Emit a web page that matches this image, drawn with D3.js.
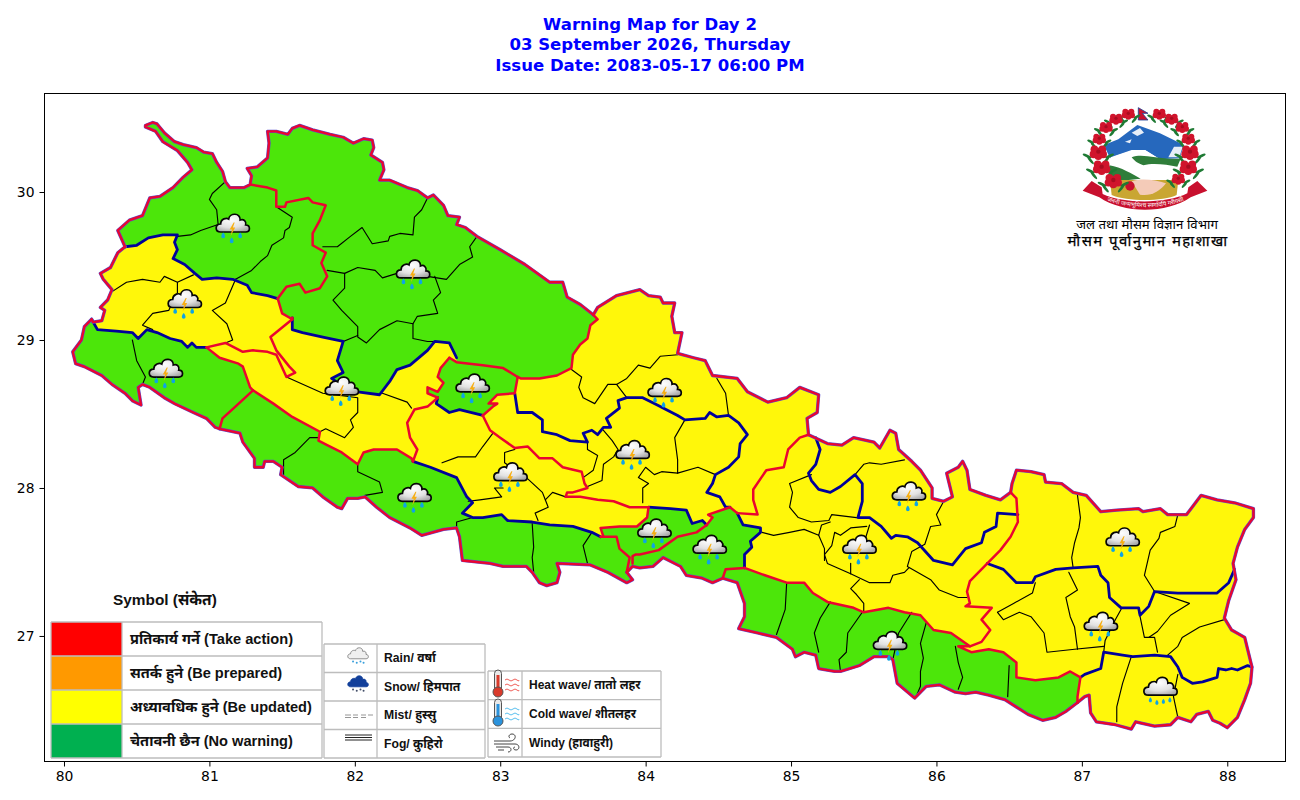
<!DOCTYPE html>
<html>
<head>
<meta charset="utf-8">
<script src="https://cdn.jsdelivr.net/npm/d3@7"></script>
<style>
  body { margin: 0; background: #fff; }
  svg { display: block; }
</style>
</head>
<body>
<svg id="map" width="1300" height="800"></svg>
<script>
// ── Data: border pieces in lon/lat ───────────────────────────────────────
const outer1 = [[80.42,29.63],[80.37,29.74],[80.45,29.81],[80.54,29.84],[80.59,29.96],[80.66,29.97],[80.75,30.03],[80.82,30.10],[80.88,30.15],[80.85,30.20],[80.78,30.28],[80.68,30.34],[80.63,30.41],[80.56,30.44],[80.56,30.45],[80.61,30.47],[80.64,30.46],[80.69,30.40],[80.76,30.34],[80.82,30.32],[80.91,30.30],[80.96,30.27],[81.02,30.26],[81.05,30.20],[81.09,30.14],[81.11,30.07],[81.14,30.03],[81.19,30.03],[81.24,30.03],[81.28,30.05],[81.29,30.11],[81.26,30.16],[81.33,30.17],[81.40,30.23],[81.41,30.33],[81.40,30.41],[81.46,30.41],[81.54,30.39],[81.57,30.43],[81.62,30.45],[81.71,30.42],[81.83,30.39],[81.92,30.37],[81.99,30.33],[82.06,30.36],[82.12,30.35],[82.13,30.30],[82.11,30.25],[82.19,30.20],[82.20,30.15],[82.17,30.08],[82.24,30.08],[82.36,30.03],[82.43,30.01],[82.50,29.96],[82.54,29.98],[82.61,29.91],[82.64,29.84],[82.72,29.83],[82.70,29.78],[82.76,29.76],[82.84,29.70],[83.00,29.61],[83.17,29.51],[83.34,29.39],[83.43,29.39],[83.46,29.29],[83.55,29.24],[83.64,29.17]];
const outer2 = [[83.64,29.17],[83.67,29.22],[83.80,29.30],[83.96,29.34],[84.02,29.30],[84.10,29.29],[84.12,29.25],[84.20,29.25],[84.18,29.16],[84.20,29.05],[84.25,29.05],[84.22,28.91],[84.33,28.88],[84.41,28.86],[84.46,28.76],[84.63,28.74],[84.70,28.65],[84.84,28.58],[84.97,28.61],[85.06,28.68],[85.19,28.63],[85.18,28.51],[85.11,28.47],[85.12,28.36]];
const outer3 = [[85.12,28.36],[85.25,28.30],[85.35,28.29],[85.43,28.34],[85.57,28.31],[85.61,28.27],[85.68,28.39],[85.72,28.37],[85.74,28.26],[85.83,28.18],[85.89,28.12],[85.97,28.00],[85.97,27.93],[86.05,27.91],[86.11,27.94],[86.07,28.10],[86.15,28.14],[86.18,28.18],[86.21,28.12],[86.23,27.99],[86.34,27.95],[86.44,27.92],[86.51,27.97]];
const outer4 = [[86.51,27.97],[86.52,28.03],[86.55,28.12],[86.65,28.11],[86.74,28.09],[86.75,28.04],[86.86,28.03],[86.94,27.97],[87.03,27.95],[87.13,27.84],[87.24,27.85],[87.39,27.86],[87.42,27.84],[87.54,27.86],[87.59,27.82],[87.72,27.82],[87.82,27.95],[87.93,27.92],[88.05,27.90],[88.18,27.86],[88.18,27.80],[88.12,27.72],[88.07,27.60],[88.04,27.49],[88.06,27.38],[88.01,27.24],[87.98,27.12],[88.03,27.04],[88.12,26.99],[88.14,26.91],[88.17,26.79],[88.16,26.68],[88.12,26.57],[88.07,26.45],[88.00,26.38],[87.95,26.41],[87.90,26.43],[87.87,26.49],[87.79,26.47],[87.75,26.42],[87.66,26.45],[87.61,26.40],[87.50,26.39],[87.37,26.42],[87.34,26.37],[87.23,26.40],[87.10,26.42],[87.06,26.48],[87.05,26.60],[87.02,26.59],[86.97,26.55]];
const outer5 = [[86.97,26.55],[86.89,26.49],[86.82,26.45],[86.73,26.43],[86.63,26.47],[86.55,26.52],[86.47,26.57],[86.36,26.60],[86.27,26.62],[86.20,26.61],[86.13,26.62],[86.02,26.67],[85.93,26.66],[85.85,26.58],[85.73,26.68],[85.70,26.84],[85.67,26.86],[85.57,26.86],[85.47,26.80],[85.34,26.76],[85.30,26.76],[85.19,26.78],[85.17,26.87],[85.09,26.89],[85.03,26.86],[85.01,26.91],[84.90,26.99],[84.77,27.02],[84.64,27.05],[84.68,27.13],[84.68,27.22],[84.63,27.36],[84.53,27.39]];
const outer6 = [[84.53,27.39],[84.46,27.36],[84.39,27.39],[84.28,27.41],[84.24,27.47],[84.12,27.53],[84.05,27.47],[83.96,27.46],[83.91,27.47],[83.87,27.43]];
const outer7 = [[83.87,27.43],[83.91,27.38],[83.87,27.36],[83.74,27.43],[83.62,27.48],[83.39,27.49],[83.41,27.43],[83.39,27.36],[83.32,27.34],[83.27,27.36],[83.22,27.43],[83.18,27.47],[83.02,27.47],[82.93,27.49],[82.74,27.51],[82.72,27.67],[82.70,27.73],[82.61,27.72],[82.46,27.68],[82.38,27.73],[82.24,27.80],[82.15,27.87],[82.07,27.94],[82.02,27.93],[81.95,27.93],[81.91,27.86],[81.88,27.87],[81.78,27.94],[81.71,28.00],[81.61,28.01],[81.49,28.09],[81.50,28.14],[81.44,28.18],[81.38,28.18],[81.37,28.14],[81.31,28.14],[81.31,28.20],[81.23,28.31],[81.21,28.37],[81.07,28.40]];
const outer8 = [[81.07,28.40],[81.04,28.41],[80.98,28.47],[80.89,28.51],[80.76,28.57],[80.69,28.61],[80.59,28.68],[80.54,28.70],[80.51,28.68],[80.53,28.56],[80.47,28.59],[80.42,28.64],[80.33,28.70],[80.26,28.76],[80.14,28.82],[80.08,28.84],[80.06,28.92],[80.12,29.00],[80.14,29.09],[80.19,29.14]];
const outer9 = [[80.19,29.14],[80.20,29.12],[80.26,29.13],[80.28,29.20],[80.25,29.22],[80.30,29.27],[80.33,29.34],[80.27,29.41],[80.25,29.45],[80.32,29.49],[80.37,29.59],[80.42,29.63]];

// navy lines
const navyA = [[80.42,29.63],[80.50,29.64],[80.58,29.69],[80.68,29.71],[80.78,29.71],[80.76,29.66],[80.78,29.61],[80.75,29.55],[80.83,29.51],[80.90,29.45],[80.95,29.41],[81.05,29.42],[81.16,29.41],[81.26,29.37],[81.29,29.32],[81.40,29.30],[81.47,29.28]];
const navyB = [[81.57,29.15],[81.57,29.07],[81.64,29.05],[81.78,29.02],[81.92,28.99],[81.88,28.86],[81.92,28.78],[81.84,28.74],[81.93,28.68],[82.02,28.65],[82.17,28.63],[82.24,28.72],[82.29,28.80],[82.38,28.83],[82.50,28.93],[82.55,28.99],[82.65,28.98],[82.70,28.88]];
const navyC = [[80.98,28.95],[80.91,28.95],[80.88,28.98],[80.85,28.95],[80.81,28.99],[80.73,29.01],[80.64,29.05],[80.57,29.07],[80.51,29.01],[80.47,29.05],[80.36,29.06],[80.23,29.07],[80.19,29.14]];
const navyD = [[82.40,28.18],[82.52,28.14],[82.70,28.07],[82.77,27.94],[82.81,27.90],[82.74,27.83],[82.81,27.80],[82.88,27.80],[83.01,27.82],[83.05,27.78],[83.22,27.77],[83.34,27.75],[83.50,27.74],[83.63,27.70],[83.69,27.67]];
const navyE = [[82.57,28.61],[82.56,28.57],[82.65,28.51],[82.72,28.53],[82.88,28.49]];
const navyF = [[84.02,27.87],[84.17,27.86],[84.28,27.85],[84.32,27.76],[84.39,27.78],[84.42,27.75]];
const navyG = [[83.10,28.64],[83.12,28.51],[83.22,28.51],[83.29,28.46],[83.29,28.38],[83.39,28.36],[83.48,28.32],[83.60,28.31],[83.57,28.37],[83.63,28.39],[83.67,28.36],[83.71,28.41],[83.76,28.41],[83.73,28.47],[83.82,28.54],[83.81,28.59],[83.87,28.61],[83.98,28.61],[84.08,28.56],[84.22,28.49],[84.27,28.46],[84.41,28.47],[84.44,28.51],[84.49,28.48],[84.57,28.49],[84.64,28.44],[84.70,28.36],[84.65,28.30],[84.64,28.21],[84.57,28.14],[84.48,28.09],[84.46,28.03],[84.42,27.97],[84.51,27.94],[84.55,27.87],[84.58,27.87]];
const navyH = [[84.63,27.83],[84.67,27.75],[84.79,27.73],[84.79,27.70],[84.72,27.64],[84.73,27.60],[84.68,27.55],[84.68,27.46]];
const navyI = [[86.35,27.49],[86.46,27.45],[86.55,27.36],[86.66,27.36],[86.68,27.40],[86.82,27.45],[86.94,27.46],[87.11,27.47],[87.13,27.41],[87.18,27.36],[87.19,27.26],[87.27,27.19],[87.39,27.19],[87.40,27.14],[87.46,27.20],[87.50,27.30],[87.66,27.29],[87.93,27.29],[88.01,27.36],[88.05,27.45]];
const navyJ = [[86.56,27.82],[86.42,27.83],[86.41,27.74],[86.33,27.70],[86.31,27.63],[86.20,27.59],[86.15,27.53],[86.11,27.48],[85.98,27.51],[85.87,27.63],[85.80,27.67],[85.72,27.68],[85.69,27.66],[85.62,27.74],[85.54,27.80],[85.46,27.80],[85.49,27.91],[85.49,28.03],[85.44,28.09],[85.34,28.01],[85.27,27.97],[85.19,27.99],[85.14,28.05],[85.12,28.10],[85.17,28.16],[85.20,28.26],[85.17,28.34]];
const navyK = [[86.99,26.72],[87.02,26.74],[87.13,26.78],[87.15,26.89],[87.28,26.87],[87.35,26.86],[87.50,26.87],[87.61,26.86],[87.66,26.79],[87.69,26.72],[87.76,26.68],[87.83,26.69],[87.93,26.72],[87.94,26.78],[87.99,26.77],[88.03,26.78],[88.07,26.77],[88.14,26.80],[88.17,26.79]];

// red lines
const redA = [[81.47,29.28],[81.53,29.36],[81.62,29.38],[81.66,29.32],[81.76,29.35],[81.81,29.43],[81.77,29.52],[81.80,29.59],[81.71,29.64],[81.71,29.72],[81.76,29.81],[81.80,29.91],[81.71,29.93],[81.68,29.96],[81.53,29.93],[81.52,29.90],[81.46,29.90],[81.46,30.01],[81.40,30.03],[81.28,30.05]];
const redB = [[81.47,29.28],[81.50,29.18],[81.57,29.14],[81.57,29.15]];
const redC = [[81.57,29.14],[81.42,29.02],[81.46,28.93],[81.55,28.82],[81.59,28.78],[81.53,28.75],[81.46,28.90],[81.40,28.92],[81.30,28.93],[81.23,28.92],[81.11,28.98],[80.98,28.95]];
const redD = [[80.98,28.95],[81.07,28.88],[81.20,28.84],[81.23,28.82],[81.28,28.68],[81.30,28.66]];
const redE = [[81.30,28.66],[81.19,28.56],[81.09,28.47],[81.07,28.40]];
const redF = [[81.30,28.66],[81.44,28.57],[81.57,28.48],[81.76,28.38],[81.75,28.32],[81.81,28.29],[81.91,28.24],[82.02,28.16],[82.06,28.24],[82.13,28.26],[82.29,28.26],[82.39,28.20],[82.40,28.18]];
const redG = [[83.69,27.67],[83.71,27.67],[83.80,27.67],[83.82,27.59],[83.89,27.53],[83.87,27.43]];
const redH = [[84.02,27.87],[84.01,27.80],[83.94,27.74],[83.82,27.74],[83.69,27.73],[83.71,27.67]];
const redI = [[82.40,28.18],[82.43,28.26],[82.38,28.34],[82.36,28.44],[82.41,28.53],[82.50,28.55],[82.57,28.61]];
const redJ = [[82.57,28.61],[82.50,28.64],[82.50,28.68],[82.57,28.65],[82.61,28.71],[82.57,28.75],[82.59,28.81],[82.65,28.88]];
const redK = [[82.65,28.88],[82.70,28.85],[82.88,28.83],[83.02,28.81],[83.12,28.75]];
const redL = [[83.12,28.75],[83.14,28.74],[83.27,28.74],[83.39,28.76],[83.49,28.81],[83.50,28.90],[83.55,28.97],[83.60,29.01],[83.62,29.10],[83.67,29.14],[83.64,29.17]];
const redM = [[83.12,28.75],[83.10,28.64],[82.98,28.63],[82.92,28.57],[82.98,28.57],[82.95,28.55],[82.88,28.49]];
const redN = [[82.88,28.49],[82.93,28.39],[83.00,28.34],[83.10,28.27],[83.19,28.28],[83.27,28.20],[83.36,28.20],[83.43,28.14],[83.56,28.11],[83.58,28.03],[83.60,28.00],[83.50,27.97],[83.46,27.97],[83.45,27.94],[83.55,27.94],[83.67,27.92],[83.78,27.91],[83.89,27.87],[84.02,27.87]];
const redO = [[83.91,27.49],[83.91,27.54],[83.93,27.55],[83.96,27.55],[84.09,27.58],[84.22,27.67],[84.35,27.70],[84.42,27.75]];
const redP = [[84.42,27.75],[84.46,27.80],[84.43,27.82],[84.58,27.87],[84.63,27.83]];
const redQ = [[84.63,27.83],[84.77,27.82],[84.74,27.92],[84.74,27.99],[84.83,28.12],[84.95,28.14],[84.98,28.26],[85.06,28.34],[85.12,28.36]];
const redR = [[84.53,27.39],[84.55,27.45],[84.68,27.46]];
const redS = [[84.68,27.46],[84.82,27.41],[84.97,27.36],[85.09,27.36],[85.15,27.29],[85.25,27.23],[85.43,27.19],[85.50,27.16],[85.67,27.19],[85.78,27.16],[85.89,27.14],[85.98,27.04],[86.10,27.02],[86.23,26.93],[86.15,26.93],[86.24,26.89],[86.36,26.91],[86.46,26.89],[86.55,26.82],[86.55,26.72],[86.68,26.70],[86.84,26.72],[86.92,26.76],[86.99,26.72],[86.97,26.59],[86.97,26.55]];
const redT = [[86.51,27.97],[86.55,27.93],[86.56,27.77],[86.51,27.67],[86.44,27.58],[86.35,27.49],[86.23,27.37],[86.21,27.30],[86.23,27.22],[86.20,27.20],[86.38,27.19],[86.31,27.11],[86.37,27.04],[86.31,26.96],[86.23,26.93]];

// thin district lines
const districtLines = [
  [[81.11,30.07],[81.02,29.99],[81.00,29.95],[81.05,29.88],[81.06,29.78],[80.94,29.74],[80.87,29.71],[80.78,29.70]],
  [[81.46,29.90],[81.57,29.83],[81.55,29.76],[81.52,29.74],[81.51,29.69],[81.43,29.64],[81.40,29.57],[81.35,29.53],[81.29,29.47],[81.18,29.41]],
  [[82.50,29.96],[82.46,29.88],[82.41,29.83],[82.40,29.71],[82.31,29.72],[82.24,29.70],[82.23,29.67],[82.12,29.65],[82.05,29.76],[81.97,29.70],[81.88,29.63],[81.78,29.63]],
  [[81.81,29.47],[81.93,29.45],[82.02,29.49],[82.14,29.47],[82.19,29.42],[82.29,29.45],[82.50,29.43],[82.63,29.41],[82.72,29.51],[82.81,29.56],[82.79,29.63],[82.84,29.70]],
  [[81.93,29.45],[81.93,29.35],[81.85,29.27],[81.91,29.20],[82.02,29.09],[82.02,29.02],[82.08,28.98],[82.17,29.07],[82.29,29.13],[82.40,29.11],[82.43,29.16],[82.57,29.18],[82.54,29.27],[82.59,29.32],[82.55,29.43]],
  [[81.92,28.99],[82.02,29.03]],
  [[82.40,29.11],[82.40,29.01],[82.50,28.99],[82.55,28.99]],
  [[80.32,29.32],[80.43,29.39],[80.54,29.41],[80.66,29.39],[80.69,29.43],[80.78,29.39],[80.89,29.44]],
  [[80.78,29.39],[80.78,29.32],[80.72,29.20],[80.61,29.18],[80.54,29.10],[80.61,29.07]],
  [[81.18,29.41],[81.11,29.25],[81.02,29.20],[81.12,29.11],[81.16,29.00],[81.11,28.98]],
  [[80.47,29.00],[80.50,28.86],[80.56,28.75],[80.54,28.70]],
  [[81.53,28.75],[81.78,28.64],[82.02,28.61],[82.02,28.51],[81.97,28.46],[81.99,28.41],[81.93,28.34],[81.80,28.40],[81.76,28.38]],
  [[82.19,28.64],[82.36,28.58],[82.39,28.54]],
  [[81.75,28.34],[81.69,28.34],[81.59,28.24],[81.51,28.19],[81.51,28.09]],
  [[82.02,28.16],[82.02,28.11],[82.17,28.04],[82.19,27.97],[82.07,27.95]],
  [[82.70,27.73],[82.70,27.77],[82.81,27.80]],
  [[83.49,28.80],[83.56,28.75],[83.54,28.68],[83.57,28.61],[83.65,28.57],[83.74,28.70],[83.80,28.70],[83.87,28.61]],
  [[83.80,28.70],[83.87,28.74],[83.95,28.83],[84.03,28.81],[84.10,28.89],[84.22,28.90]],
  [[84.49,28.74],[84.55,28.64],[84.57,28.49]],
  [[84.27,28.46],[84.20,28.34],[84.22,28.19],[84.22,28.10],[84.36,28.14],[84.48,28.09]],
  [[84.22,28.10],[84.11,28.11],[84.06,28.09],[84.00,28.14],[83.95,28.07],[84.02,28.03],[83.98,28.00],[83.98,27.90]],
  [[83.71,28.39],[83.77,28.32],[83.81,28.26],[83.78,28.21],[83.71,28.16],[83.70,28.05],[83.60,28.01]],
  [[83.60,28.31],[83.60,28.26],[83.67,28.22],[83.64,28.12],[83.57,28.07],[83.58,28.03]],
  [[82.95,28.37],[82.88,28.28],[82.83,28.21],[82.71,28.21],[82.60,28.17]],
  [[83.10,28.26],[83.03,28.24],[83.03,28.17],[83.18,28.07],[83.29,27.97],[83.31,27.92],[83.33,27.87],[83.24,27.83],[83.26,27.78]],
  [[83.31,27.92],[83.36,27.97],[83.45,27.94]],
  [[83.02,28.00],[82.96,28.00],[83.01,27.94],[82.86,27.92],[82.78,27.91]],
  [[83.22,27.76],[83.23,27.60],[83.22,27.53],[83.23,27.43]],
  [[83.63,27.70],[83.57,27.61],[83.60,27.49]],
  [[85.78,28.19],[85.62,28.16],[85.54,28.17],[85.50,28.16],[85.44,28.09]],
  [[85.14,28.09],[84.99,28.03],[85.01,27.97],[84.99,27.87],[85.05,27.80],[85.14,27.77],[85.26,27.78],[85.28,27.82],[85.45,27.80]],
  [[86.05,27.91],[86.00,27.82],[86.03,27.75],[85.96,27.74],[85.92,27.62],[85.83,27.57],[85.80,27.47],[85.96,27.38],[86.02,27.31],[86.15,27.26],[86.21,27.26]],
  [[86.97,27.95],[86.99,27.80],[86.98,27.73],[86.95,27.63],[86.93,27.53],[86.94,27.46]],
  [[87.66,27.82],[87.64,27.74],[87.54,27.70],[87.53,27.66],[87.47,27.58],[87.43,27.41],[87.50,27.30]],
  [[84.80,27.70],[84.88,27.68],[84.99,27.70],[85.09,27.72],[85.19,27.68],[85.21,27.75],[85.27,27.77]],
  [[85.52,27.74],[85.41,27.73],[85.34,27.68],[85.30,27.70],[85.28,27.61],[85.23,27.55],[85.25,27.49],[85.41,27.42],[85.54,27.36],[85.68,27.36],[85.70,27.41],[85.78,27.43],[85.81,27.46]],
  [[85.54,27.75],[85.49,27.59]],
  [[85.41,27.49],[85.41,27.42]],
  [[85.19,27.68],[85.23,27.59],[85.23,27.51]],
  [[85.47,27.38],[85.41,27.32],[85.45,27.28],[85.50,27.22],[85.50,27.16]],
  [[86.42,27.16],[86.46,27.11],[86.57,27.16],[86.65,27.13],[86.74,27.02],[86.76,26.89],[86.95,26.91],[87.15,26.93]],
  [[86.42,27.16],[86.53,27.22],[86.66,27.29],[86.68,27.36]],
  [[86.91,27.43],[86.97,27.31],[86.89,27.26],[86.92,27.13],[86.95,27.06],[86.97,26.91]],
  [[87.27,27.18],[87.23,27.11],[87.16,26.97],[87.15,26.89]],
  [[87.39,27.18],[87.43,26.99],[87.50,26.99],[87.52,26.89]],
  [[87.50,27.30],[87.74,27.22],[87.61,27.14],[87.52,27.03],[87.46,26.99]],
  [[87.98,27.11],[87.81,27.06],[87.69,26.99],[87.66,26.93],[87.59,26.87]],
  [[87.34,26.86],[87.28,26.68],[87.24,26.52],[87.24,26.42]],
  [[87.66,26.74],[87.63,26.59],[87.66,26.45]],
  [[86.50,26.80],[86.49,26.59]],
  [[84.97,27.36],[84.96,27.18],[84.90,27.01]],
  [[85.27,27.23],[85.20,27.12],[85.16,27.02],[85.19,26.89]],
  [[85.49,27.16],[85.39,27.02],[85.38,26.89],[85.33,26.84],[85.34,26.76]],
  [[85.83,27.16],[85.74,27.02],[85.70,26.84]],
  [[85.93,27.09],[85.89,26.95],[85.91,26.85],[85.89,26.76],[85.89,26.66],[85.86,26.59]],
  [[86.13,26.93],[86.15,26.82],[86.18,26.72],[86.15,26.64]]
];

// cloud symbols: lon, lat, thunder or plain rain
const cloudLon = [81.16,82.40,80.83,80.70,81.91,82.81,84.13,83.91,83.07,82.41,84.06,84.44,85.81,85.47,87.28,87.13,85.68,87.54];
const cloudLat = [29.76,29.45,29.25,28.78,28.66,28.68,28.65,28.23,28.08,27.94,27.70,27.59,27.95,27.59,27.64,27.07,26.94,26.63];
const cloudBolt = [1,1,1,1,1,1,1,1,1,1,1,1,1,1,1,1,1,0];

const xTicks = [80,81,82,83,84,85,86,87,88];
const yTicks = [27,28,29,30];
const titleLines = ['Warning Map for Day 2','03 September 2026, Thursday','Issue Date: 2083-05-17 06:00 PM'];

const warningColors = ['#ff0000','#ff9900','#ffff00','#00b050'];
const warningLabels = ['प्रतिकार्य गर्ने (Take action)','सतर्क हुने (Be prepared)','अध्यावधिक हुने (Be updated)','चेतावनी छैन (No warning)'];
const weatherLabels = ['Rain/ वर्षा','Snow/ हिमपात','Mist/ हुस्सु','Fog/ कुहिरो'];
const hazardLabels  = ['Heat wave/ तातो लहर','Cold wave/ शीतलहर','Windy (हावाहुरी)'];

const YELLOW = '#fff70a', GREEN = '#4ce60a', RED = '#ea0530', NAVY = '#00009a', HALO = '#5a50d0';
const BOLD_FONT = '"Liberation Sans","Noto Sans",sans-serif';

// ── Setup ────────────────────────────────────────────────────────────────
const svg = d3.select('#map');
const x = d3.scaleLinear().domain([79.8625, 88.397]).range([44, 1285]);
const y = d3.scaleLinear().domain([26.155, 30.669]).range([761, 93]);
const line = d3.line().x(d => x(d[0])).y(d => y(d[1]));
const rev = a => a.slice().reverse();

svg.selectAll('text.title').data(titleLines).join('text')
  .attr('class', 'title')
  .attr('x', 650).attr('y', (d, i) => 30 + i * 20.4)
  .attr('text-anchor', 'middle')
  .attr('font-family', '"DejaVu Sans"').attr('font-weight', 'bold').attr('font-size', 16.55)
  .attr('fill', '#0000ff')
  .text(d => d);

// ── Fills ────────────────────────────────────────────────────────────────
const country = [].concat(outer1, outer2, outer3, outer4, outer5, outer6, outer7, outer8, outer9);
const greenZones = [
  [].concat(outer1, rev(redL), rev(redK).slice(0, 4), rev(navyB), rev(redB), rev(navyA)),
  [].concat(redK, redM, rev(navyE), redJ),
  [].concat(navyC, rev(outer8), rev(redE), rev(redD)),
  [].concat(redF, navyD, redG, outer7, rev(redE)),
  [].concat(navyF, redP, navyH, rev(redR), outer6, rev(redG), rev(redH)),
  [].concat(redS, outer5, redR)
];
const mapG = svg.append('g');
mapG.append('path').attr('d', line(country) + 'Z').attr('fill', YELLOW);
mapG.selectAll('path.zone').data(greenZones).join('path')
  .attr('class', 'zone').attr('d', d => line(d) + 'Z').attr('fill', GREEN);

// ── Lines ────────────────────────────────────────────────────────────────
const drawLines = (list, color, width) => {
  mapG.append('g').selectAll('path').data(list).join('path')
    .attr('d', line).attr('fill', 'none')
    .attr('stroke', color).attr('stroke-width', width)
    .attr('stroke-linejoin', 'round').attr('stroke-linecap', 'round');
};
const outerLines = [outer1, outer2, outer3, outer4, outer5, outer6, outer7, outer8, outer9];
drawLines(districtLines, '#000', 1.15);
drawLines([navyA, navyB, navyC, navyD, navyE, navyF, navyG, navyH, navyI, navyJ, navyK], NAVY, 2.8);
drawLines(outerLines, HALO, 3.3);
drawLines(outerLines, RED, 2.3);
drawLines([redA, redB, redC, redD, redE, redF, redG, redH, redI, redJ, redK, redL, redM, redN, redO, redP, redQ, redR, redS, redT], RED, 2.5);

// ── Frame and axes ───────────────────────────────────────────────────────
svg.append('rect').attr('x', 44.5).attr('y', 93.5).attr('width', 1241).attr('height', 668)
  .attr('fill', 'none').attr('stroke', '#000').attr('stroke-width', 1);
const styleAxis = g => {
  g.select('.domain').remove();
  g.selectAll('text').attr('font-family', '"DejaVu Sans"').attr('font-size', 13.9).attr('fill', '#000');
};
svg.append('g').attr('transform', 'translate(0,761.5)')
  .call(d3.axisBottom(x).tickValues(xTicks).tickSize(5).tickPadding(5).tickFormat(d3.format('d')))
  .call(styleAxis);
svg.append('g').attr('transform', 'translate(44.5,0)')
  .call(d3.axisLeft(y).tickValues(yTicks).tickSize(5).tickPadding(5).tickFormat(d3.format('d')))
  .call(styleAxis);

// ── Cloud symbols ────────────────────────────────────────────────────────
const defs = svg.append('defs');
const grad = defs.append('radialGradient').attr('id', 'cloudFill').attr('cx', '45%').attr('cy', '30%').attr('r', '75%');
grad.append('stop').attr('offset', '0%').attr('stop-color', '#ffffff');
grad.append('stop').attr('offset', '60%').attr('stop-color', '#e2e2e2');
grad.append('stop').attr('offset', '100%').attr('stop-color', '#a8a8a8');

const CLOUD_D = 'M-12,4.5 C-18,4.5 -18,-3.5 -12,-3.5 C-12,-9 -6,-10 -4,-8.5 C-3,-15 8,-15 7.5,-7.5 C11,-9 14,-6 13,-2.5 C18,-2.5 18,4.5 13,4.5 Z';
const drop = (g, dx, dy, r) => g.append('path')
  .attr('d', `M${dx},${dy - r * 1.5} C${dx + r * 1.1},${dy - r * 0.3} ${dx + r},${dy + r} ${dx},${dy + r} C${dx - r},${dy + r} ${dx - r * 1.1},${dy - r * 0.3} ${dx},${dy - r * 1.5} Z`)
  .attr('fill', '#0fa4e4');

cloudLon.forEach((lon, i) => {
  const g = svg.append('g').attr('transform', `translate(${x(lon)},${y(cloudLat[i])})`);
  g.append('path').attr('d', CLOUD_D)
    .attr('fill', 'url(#cloudFill)').attr('stroke', '#060606').attr('stroke-width', 1.7);
  if (cloudBolt[i]) {
    g.append('path').attr('d', 'M1,-5 L-3,2 L-0.7,2 L-2,8.5 L2.5,0 L0.2,0 L2,-5 Z').attr('fill', '#f6ae14');
    drop(g, -9.5, 8.5, 2.3); drop(g, 7.5, 8.5, 2.3); drop(g, -1, 13.5, 2.3);
  } else {
    drop(g, -10, 9.5, 2); drop(g, -3.5, 12, 2); drop(g, 3, 11, 2); drop(g, 9.5, 9.5, 2);
  }
});

// ── Emblem (top right) ───────────────────────────────────────────────────
const logo = svg.append('g').attr('transform', 'translate(1060,100) scale(0.3333)');
logo.append('path').attr('d', 'M132,135 L175,118 L232,75 L300,100 L372,135 L358,178 L300,178 L255,150 L215,152 L175,165 L150,175 Z').attr('fill', '#2668bd');
logo.append('path').attr('d', 'M215,98 L240,84 L252,98 L232,108 Z M342,140 L368,140 L358,172 L325,172 Z M195,125 L215,118 L210,130 Z').attr('fill', '#e6eef8');
logo.append('path').attr('d', 'M152,172 L215,150 L255,150 L300,178 L358,175 L350,240 L170,240 L150,200 Z').attr('fill', '#ffffff');
logo.append('path').attr('d', 'M215,172 C250,158 290,180 362,176 L352,200 C320,194 280,188 250,196 C235,190 225,185 215,172 Z').attr('fill', '#2f7d3a');
logo.append('path').attr('d', 'M148,196 C185,202 215,222 242,236 L170,244 L145,226 Z').attr('fill', '#2f7d3a');
logo.append('path').attr('d', 'M150,240 L355,240 L350,285 C310,305 200,305 155,285 Z').attr('fill', '#c9a632');
logo.append('path').attr('d', 'M215,244 C240,234 285,238 318,250 C300,275 270,290 240,284 Z').attr('fill', '#f4cbb8');
logo.append('circle').attr('cx', 210).attr('cy', 258).attr('r', 14).attr('fill', '#c8102e');
logo.append('path').attr('d', 'M68,272 L95,243 L125,262 L128,282 C190,312 320,312 382,280 L385,262 L412,243 L442,272 L392,292 C320,342 190,342 118,292 Z').attr('fill', '#c8102e');
logo.append('path').attr('id', 'ribbonArc').attr('d', 'M128,296 C190,330 320,330 385,296').attr('fill', 'none');
logo.append('text').attr('font-family', BOLD_FONT).attr('font-size', 18).attr('fill', '#fff')
  .append('textPath').attr('href', '#ribbonArc').attr('startOffset', '50%').attr('text-anchor', 'middle')
  .text('जननी जन्मभूमिश्च स्वर्गादपि गरीयसी');
logo.append('path').attr('d', 'M235,23 L264,40 L247,40 L264,60 L235,60 Z').attr('fill', '#c8102e').attr('stroke', '#1c3f94').attr('stroke-width', 2.5);

const flowerX = [205,168,138,118,115,125,160,298,335,367,385,390,385,355];
const flowerY = [40,55,80,115,155,200,240,40,55,80,115,155,200,235];
logo.selectAll('g.flower').data(flowerX).join('g').attr('class', 'flower')
  .each(function (fx, i) {
    const g = d3.select(this);
    const fy = flowerY[i], big = (i === 4 || i === 5 || i === 6 || i === 11 || i === 12) ? 1.3 : 1;
    [[-26,10,-25],[26,10,25],[-18,20,-50],[18,20,50]].forEach(l => {
      g.append('ellipse').attr('cx', 0).attr('cy', 0).attr('rx', 11 * big).attr('ry', 4)
        .attr('transform', `translate(${fx + l[0] * big},${fy + l[1] * big}) rotate(${-l[2]})`)
        .attr('fill', '#1f7a34');
    });
    [[0,0],[-9,-5],[9,-5],[-11,6],[11,6],[0,10]].forEach(o => {
      g.append('circle').attr('cx', fx + o[0] * big).attr('cy', fy + o[1] * big).attr('r', 9 * big).attr('fill', '#d0142c');
    });
    g.append('circle').attr('cx', fx).attr('cy', fy).attr('r', 5 * big).attr('fill', '#a80c20');
  });

svg.append('text').attr('x', 1147).attr('y', 229).attr('text-anchor', 'middle')
  .attr('font-family', BOLD_FONT).attr('font-size', 13.2).attr('fill', '#000').text('जल तथा मौसम विज्ञान विभाग');
svg.append('text').attr('x', 1148).attr('y', 246).attr('text-anchor', 'middle')
  .attr('font-family', BOLD_FONT).attr('font-size', 15).attr('letter-spacing', 1.4)
  .attr('fill', '#000').attr('stroke', '#000').attr('stroke-width', 0.25).text('मौसम पूर्वानुमान महाशाखा');

// ── Legend tables ────────────────────────────────────────────────────────
const GRID = '#bdbdbd';
const legend = svg.append('g');
legend.append('text').attr('x', 113).attr('y', 605)
  .attr('font-family', BOLD_FONT).attr('font-weight', 'bold').attr('font-size', 15.4).attr('fill', '#111')
  .text('Symbol (संकेत)');

const rowScale = (n, top, bottom) => d3.scaleLinear().domain([0, n]).range([top, bottom]);
const drawTable = (labels, left, split, right, top, bottom, textX, fontSize, colors) => {
  const r = rowScale(labels.length, top, bottom);
  const t = legend.append('g');
  t.append('rect').attr('x', left).attr('y', top).attr('width', right - left).attr('height', bottom - top).attr('fill', '#fff');
  if (colors) t.selectAll('rect.sw').data(colors).join('rect').attr('class', 'sw')
    .attr('x', left).attr('y', (d, i) => r(i)).attr('width', split - left).attr('height', (d, i) => r(i + 1) - r(i)).attr('fill', d => d);
  t.selectAll('line.row').data(d3.range(labels.length + 1)).join('line').attr('class', 'row')
    .attr('x1', left).attr('x2', right).attr('y1', d => r(d)).attr('y2', d => r(d))
    .attr('stroke', GRID).attr('stroke-width', 1.3);
  t.selectAll('line.col').data([left, split, right]).join('line').attr('class', 'col')
    .attr('x1', d => d).attr('x2', d => d).attr('y1', top).attr('y2', bottom)
    .attr('stroke', GRID).attr('stroke-width', 1.3);
  t.selectAll('text').data(labels).join('text')
    .attr('x', textX).attr('y', (d, i) => (r(i) + r(i + 1)) / 2 + fontSize * 0.34)
    .attr('font-family', BOLD_FONT).attr('font-weight', 'bold').attr('font-size', fontSize).attr('fill', '#111')
    .text(d => d);
};
drawTable(warningLabels, 51, 122, 322, 622, 758, 130, 14.6, warningColors);
drawTable(weatherLabels, 324, 377, 485, 644, 758, 384, 12.2);
drawTable(hazardLabels, 488, 522, 661, 671, 757, 529, 12);

// legend icons
const smallCloud = (cx, cy, fill, dropFill) => {
  const g = legend.append('g').attr('transform', `translate(${cx},${cy}) scale(0.62)`);
  g.append('path').attr('d', CLOUD_D).attr('fill', fill).attr('stroke', dropFill === '#3aa0dc' ? '#777' : fill).attr('stroke-width', 1.3);
  [[-8,9],[-2,11],[4,9],[9,11]].forEach(o => g.append('circle').attr('cx', o[0]).attr('cy', o[1]).attr('r', 1.6).attr('fill', dropFill));
};
smallCloud(358, 656, '#efefef', '#3aa0dc');
smallCloud(358, 684, '#123f9a', '#45506a');

[[345,351],[353,358],[361,366],[368,373]].forEach(s => {
  [715, 717.5].forEach(ly => {
    if (s[0] === 368 && ly > 716) return;
    legend.append('line').attr('x1', s[0]).attr('x2', s[1]).attr('y1', ly).attr('y2', ly).attr('stroke', '#8a8a8a').attr('stroke-width', 0.9);
  });
});
[735, 737.5, 740].forEach(ly => legend.append('line').attr('x1', 345).attr('x2', 372).attr('y1', ly).attr('y2', ly).attr('stroke', '#222').attr('stroke-width', 1));

const thermometer = (cx, cy, color) => {
  legend.append('rect').attr('x', cx - 3.5).attr('y', cy - 14).attr('width', 7).attr('height', 22).attr('rx', 3.5)
    .attr('fill', '#e8e8e8').attr('stroke', '#555').attr('stroke-width', 1);
  legend.append('rect').attr('x', cx - 1.5).attr('y', cy - 9).attr('width', 3).attr('height', 16).attr('fill', color);
  legend.append('circle').attr('cx', cx).attr('cy', cy + 8).attr('r', 5).attr('fill', color).attr('stroke', '#555').attr('stroke-width', 1);
};
const waves = (cx, cy, color) => {
  [-5, 0, 5].forEach(o => legend.append('path')
    .attr('d', `M${cx - 7},${cy + o} q2,-2 4,0 t4,0 t4,0 t2,0`)
    .attr('fill', 'none').attr('stroke', color).attr('stroke-width', 1));
};
thermometer(498, 684, '#d93a2b'); waves(512, 685, '#f0605a');
thermometer(498, 713, '#2b93dd'); waves(512, 714, '#5cc0ee');
legend.append('path')
  .attr('d', 'M494,741 H510 C516,741 517,734 512,734 C509,734 508,737 510,738 M494,744 H515 C520,744 520,750 516,750 C513,750 513,747 515,747 M496,747 H508 C512,747 512,752 508,752 M498,750 H504')
  .attr('fill', 'none').attr('stroke', '#444').attr('stroke-width', 1);
</script>
</body>
</html>
